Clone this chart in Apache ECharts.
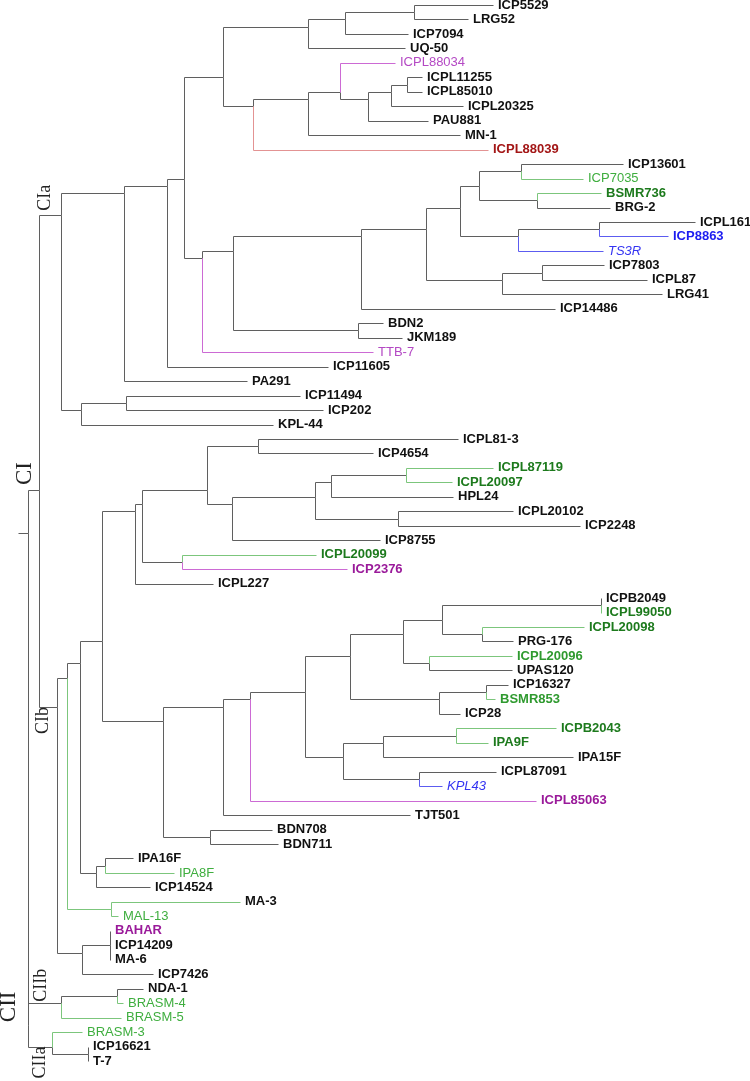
<!DOCTYPE html>
<html><head><meta charset="utf-8">
<script src="https://cdn.jsdelivr.net/npm/echarts@6/dist/echarts.min.js"></script>
<style>html,body{margin:0;padding:0;background:#fff}#c{width:750px;height:1081px}</style>
</head><body><div id="c"></div>
<script>
// ---- Leaves (top to bottom) ----
const leafNames = ['ICP5529','LRG52','ICP7094','UQ-50','ICPL88034','ICPL11255','ICPL85010','ICPL20325','PAU881','MN-1','ICPL88039',
 'ICP13601','ICP7035','BSMR736','BRG-2','ICPL161','ICP8863','TS3R','ICP7803','ICPL87','LRG41','ICP14486','BDN2','JKM189','TTB-7',
 'ICP11605','PA291','ICP11494','ICP202','KPL-44','ICPL81-3','ICP4654','ICPL87119','ICPL20097','HPL24','ICPL20102','ICP2248','ICP8755',
 'ICPL20099','ICP2376','ICPL227','ICPB2049','ICPL99050','ICPL20098','PRG-176','ICPL20096','UPAS120','ICP16327','BSMR853','ICP28',
 'ICPB2043','IPA9F','IPA15F','ICPL87091','KPL43','ICPL85063','TJT501','BDN708','BDN711','IPA16F','IPA8F','ICP14524','MA-3','MAL-13',
 'BAHAR','ICP14209','MA-6','ICP7426','NDA-1','BRASM-4','BRASM-5','BRASM-3','ICP16621','T-7'];
const leafParent = ['a10','a10','a9','a7','a12','a15','a15','a14','a13','a11','a8',
 'a24','a24','a25','a25','a26','a26','a23','a27','a27','a21','a17','a18','a18','a6',
 'a3','a1','a2a','a2a','a2','b13','b13','b18','b18','b16','b17','b17','b14',
 'b12','b12','b8','b29','b29','b30','b30','b28','b28','b31','b31','b26',
 'b34','b34','b32','b33','b33','b21','b19','b20','b20','b7','b7','b6','b4','b4',
 'b35','b35','b35','b2','c1','c1','CIIb','CIIa','c2','c2'];
// cumulative distance to each tip (picture units)
const leafX = [493,468,408,405,395,422,422,463,428,460,488,
 623,583,601,610,695,668,603,604,647,662,555,383,402,373,
 328,247,300,323,273,458,373,493,452,453,513,580,380,
 316,347,213,601,601,584,513,512,512,508,495,460,
 556,488,573,496,442,536,410,272,278,133,174,150,240,118,
 110,110,110,153,143,123,121,82,88,88];
// label group: k=black bold, dg=dark green bold, mg=green bold, lg=light green, pk=pink, pu=purple bold, rd=red bold, bb=blue bold, bi=blue italic
const leafGroup = ['k','k','k','k','pk','k','k','k','k','k','rd',
 'k','lg','dg','k','k','bb','bi','k','k','k','k','k','k','pk',
 'k','k','k','k','k','k','k','dg','dg','k','k','k','k',
 'dg','pu','k','k','dg','dg','k','mg','k','k','mg','k',
 'dg','dg','k','k','bi','pu','k','k','k','k','lg','k','k','lg',
 'pu','k','k','k','k','lg','lg','lg','k','k'];
// branch colour group for each tip: '' default, g green, p pink, b blue, r red
const leafBranch = ['','','','','p','','','','','','r',
 '','g','g','','','b','b','','','','','','','p',
 '','','','','','','','g','g','','','','',
 'g','p','','','g','g','','g','','','g','',
 'g','g','','','b','p','','','','','g','','g','g',
 '','','','','','g','g','g','',''];
// ---- Internal nodes ----
const nodeIds = ['R','CI','CII','A','B','a1','a2','a2a','a3','a4','a5','a6','a7','a8','a9','a10','a11','a12','a13','a14','a15',
 'a16','a17','a18','a19','a20','a21','a22','a23','a24','a25','a26','a27',
 'b1','b2','b3','b4','b5','b6','b7','b8','b9','b10','b11','b12','b13','b14','b15','b16','b17','b18','b19','b20',
 'b21','b22','b23','b24','b25','b26','b27','b28','b29','b30','b31','b32','b33','b34','b35','CIIb','CIIa','c1','c2'];
const nodeParent = [null,'R','R','CI','CI','A','A','a2','a1','a3','a4','a4','a5','a5','a7','a9','a8','a11','a12','a13','a14',
 'a6','a16','a16','a17','a19','a19','a20','a20','a22','a22','a23','a21',
 'B','B','b1','b1','b3','b3','b6','b5','b5','b8','b10','b10','b11','b11','b14','b15','b15','b16','b9','b9',
 'b19','b21','b22','b22','b23','b23','b25','b25','b27','b27','b26','b24','b24','b32','b2','CII','CII','CIIb','CIIa'];
const nodeX = [28,39,28,61,57,124,81,126,167,184,223,202,308,253,345,414,308,340,368,391,407,
 233,361,358,426,460,502,479,518,521,537,599,542,
 67,82,80,111,102,96,105,135,163,142,207,182,258,232,315,331,398,406,223,210,
 250,305,350,343,403,439,442,429,601,482,486,383,419,456,110,61,52,117,88];
const nodeBranch = {b4:'g'};
const rootStemX = 18;
// ---- Clade labels ----
const cladeNames = ['CIa','CI','CIb','CII','CIIb','CIIa'];
const cladeNodes = ['A','CI','B','CII','CIIb','CIIa'];

// ---- tree layout (y = midpoint of descendant tip range) ----
const nIdx = {}; nodeIds.forEach((id,i)=>nIdx[id]=i);
const minL = nodeIds.map(()=>Infinity), maxL = nodeIds.map(()=>-Infinity);
leafParent.forEach((p,i)=>{let n=p;while(n!=null){const k=nIdx[n];minL[k]=Math.min(minL[k],i);maxL[k]=Math.max(maxL[k],i);n=nodeParent[k];}});
const nodeY = nodeIds.map((_,k)=>(minL[k]+maxL[k])/2);

const branchColor = {'':'#5f5f5f',g:'#7cc67c',p:'#cc6ad4',b:'#5c5cf0',r:'#e39393'};
const labelStyle = {
 k:{c:'#111111',f:'bold 13px "Liberation Sans", Arial, sans-serif'},
 dg:{c:'#1d7a1d',f:'bold 13px "Liberation Sans", Arial, sans-serif'},
 mg:{c:'#2f9a2f',f:'bold 13px "Liberation Sans", Arial, sans-serif'},
 lg:{c:'#3fae3f',f:'13px "Liberation Sans", Arial, sans-serif'},
 pk:{c:'#b449c4',f:'13px "Liberation Sans", Arial, sans-serif'},
 pu:{c:'#9a1a9a',f:'bold 13px "Liberation Sans", Arial, sans-serif'},
 rd:{c:'#a31616',f:'bold 13px "Liberation Sans", Arial, sans-serif'},
 bb:{c:'#1c1cf0',f:'bold 13px "Liberation Sans", Arial, sans-serif'},
 bi:{c:'#3434f2',f:'italic 13px "Liberation Sans", Arial, sans-serif'}
};

const edges = [];
nodeIds.forEach((id,k)=>{const p=nodeParent[k];if(p==null)return;const q=nIdx[p];
 edges.push([nodeX[q],nodeY[q],nodeX[k],nodeY[k],nodeBranch[id]||'']);});
leafNames.forEach((nm,i)=>{const q=nIdx[leafParent[i]];edges.push([nodeX[q],nodeY[q],leafX[i],i,leafBranch[i]]);});
const r = nIdx['R'];
edges.push([rootStemX,nodeY[r],nodeX[r],nodeY[r],'']);
edges.sort((a,b)=>(a[4]?1:0)-(b[4]?1:0));

const snap = v => Math.round(v)+0.5;
const chart = echarts.init(document.getElementById('c'),null,{renderer:'canvas'});
chart.setOption({
 animation:false,
 backgroundColor:'#fff',
 grid:{left:0,right:0,top:5,bottom:20},
 xAxis:{type:'value',min:0,max:750,show:false},
 yAxis:{type:'value',min:0,max:73,inverse:true,show:false},
 series:[
 {type:'custom',coordinateSystem:'cartesian2d',clip:false,
  data:edges.map(e=>({value:[e[0],e[1],e[2],e[3]],grp:e[4]})),
  encode:{x:[0,2],y:[1,3]},
  renderItem:function(params,api){
   const e=edges[params.dataIndex];
   const a=api.coord([e[0],e[1]]), b=api.coord([e[0],e[3]]), c=api.coord([e[2],e[3]]);
   return {type:'polyline',shape:{points:[[snap(a[0]),snap(a[1])],[snap(b[0]),snap(b[1])],[snap(c[0]),snap(c[1])]]},
    style:{stroke:branchColor[e[4]],lineWidth:1,fill:null}};
  }},
 {type:'custom',coordinateSystem:'cartesian2d',clip:false,
  data:leafNames.map((n,i)=>[leafX[i],i]),
  renderItem:function(params,api){
   const i=params.dataIndex, p=api.coord([leafX[i],i]), s=labelStyle[leafGroup[i]];
   return {type:'text',x:p[0]+5,y:p[1],style:{text:leafNames[i],fill:s.c,font:s.f,align:'left',verticalAlign:'middle'}};
  }},
 {type:'custom',coordinateSystem:'cartesian2d',clip:false,
  data:cladeNodes.map(id=>[nodeX[nIdx[id]],nodeY[nIdx[id]]]),
  renderItem:function(params,api){
   const i=params.dataIndex, k=nIdx[cladeNodes[i]], p=api.coord([nodeX[k],nodeY[k]]);
   const place={CIa:[-16,-17,18],CI:[-14,-16,23],CIb:[-14,14,18],CII:[-19,-18,23],CIIb:[-20,-18,18],CIIa:[-12,16,18]}[cladeNames[i]];
   return {type:'text',x:p[0]+place[0],y:p[1]+place[1],rotation:Math.PI/2,
    style:{text:cladeNames[i],fill:'#222',font:place[2]+'px "Liberation Serif", "Times New Roman", serif',align:'center',verticalAlign:'middle'}};
  }}
 ]
});
</script></body></html>
